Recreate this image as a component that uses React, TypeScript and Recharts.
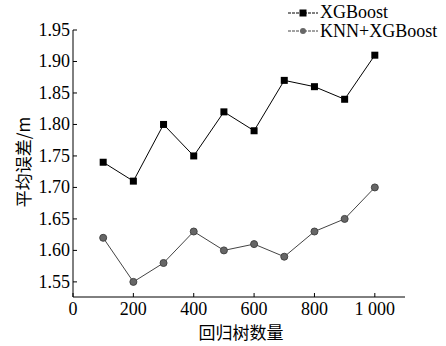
import React from 'react';
import { LineChart, Line, XAxis, YAxis, Legend } from 'recharts';

const treeCounts = [100, 200, 300, 400, 500, 600, 700, 800, 900, 1000];
const xgboostErr = [1.74, 1.71, 1.80, 1.75, 1.82, 1.79, 1.87, 1.86, 1.84, 1.91];
const knnXgboostErr = [1.62, 1.55, 1.58, 1.63, 1.60, 1.61, 1.59, 1.63, 1.65, 1.70];
const xTicks = [0, 200, 400, 600, 800, 1000];
const yTicks = [1.55, 1.6, 1.65, 1.7, 1.75, 1.8, 1.85, 1.9, 1.95];
const seriesNames = ['XGBoost', 'KNN+XGBoost'];
const xLabel = '回归树数量';
const yLabel = '平均误差/m';

const data = treeCounts.map((n, i) => ({ n, a: xgboostErr[i], b: knnXgboostErr[i] }));

const SERIF = '"Liberation Serif", "DejaVu Serif", serif';
const CJK = '"Noto Sans CJK SC", sans-serif';
const serifStyle = { fontFamily: SERIF };

const Square = (props: any) => {
  const { cx, cy } = props;
  if (cx == null || cy == null) return null;
  return <rect x={cx - 3.5} y={cy - 3.5} width={7} height={7} fill="#000" />;
};
const Dot = (props: any) => {
  const { cx, cy } = props;
  if (cx == null || cy == null) return null;
  return <circle cx={cx} cy={cy} r={3.5} fill="#666" stroke="#444" strokeWidth={1} />;
};

const renderXTick = (props: any) => {
  const { x, y, payload } = props;
  const v = payload.value as number;
  return (
    <text key={`xt-${v}`} x={x} y={y + 22} textAnchor="middle" style={serifStyle} fontSize={18} fill="#000">
      {v === 1000 ? '1 000' : String(v)}
    </text>
  );
};
const renderYTick = (props: any) => {
  const { y, payload } = props;
  const v = payload.value as number;
  return (
    <text key={`yt-${v}`} x={70} y={y + 6} textAnchor="end" style={serifStyle} fontSize={18} fill="#000">
      {v.toFixed(2)}
    </text>
  );
};

const LegendContent = () => (
  <svg width={160} height={40} style={{ display: 'block' }}>
    <g>
      <line x1={0} y1={13} x2={30} y2={13} stroke="#000" strokeWidth={1} strokeDasharray="3 1" />
      <rect x={11.5} y={9.5} width={7} height={7} fill="#000" />
      <text x={32} y={18} style={serifStyle} fontSize={18} fill="#000">{seriesNames[0]}</text>
    </g>
    <g>
      <line x1={0} y1={31} x2={30} y2={31} stroke="#444" strokeWidth={1} strokeDasharray="3 1" />
      <circle cx={15} cy={31} r={3} fill="#666" />
      <text x={32} y={37} style={serifStyle} fontSize={18} fill="#000">{seriesNames[1]}</text>
    </g>
  </svg>
);

export default function App() {
  return (
    <div style={{ position: 'absolute', left: 0, top: 0, background: '#fff', fontFamily: SERIF }}>
      <LineChart
        width={446}
        height={346}
        data={data}
        margin={{ top: 30, right: 41, bottom: 0, left: 0 }}
        style={{ fontFamily: SERIF }}
      >
        <XAxis
          dataKey="n"
          type="number"
          domain={[0, 1100]}
          ticks={xTicks}
          height={49}
          tickSize={-4}
          tickMargin={0}
          axisLine={{ stroke: '#000' }}
          tickLine={{ stroke: '#000' }}
          tick={renderXTick}
          label={() => (
            <text x={241} y={339} textAnchor="middle" fontFamily={CJK} fontSize={17} fill="#000">{xLabel}</text>
          )}
        />
        <YAxis
          type="number"
          domain={[1.526, 1.95]}
          ticks={yTicks}
          width={73}
          tickSize={-4}
          tickMargin={0}
          allowDataOverflow
          axisLine={{ stroke: '#000' }}
          tickLine={{ stroke: '#000' }}
          tick={renderYTick}
          label={() => (
            <text
              x={0}
              y={0}
              transform="translate(30,162) rotate(-90)"
              textAnchor="middle"
              fontFamily={CJK}
              fontSize={17}
              fill="#000"
            >
              {yLabel}
            </text>
          )}
        />
        <Legend
          content={<LegendContent />}
          layout="vertical"
          verticalAlign="middle"
          align="center"
          wrapperStyle={{ position: 'absolute', left: 288, top: 0, width: 160, height: 40 }}
        />
        <Line
          dataKey="a"
          name={seriesNames[0]}
          stroke="#000"
          strokeWidth={1}
          dot={<Square />}
          isAnimationActive={false}
        />
        <Line
          dataKey="b"
          name={seriesNames[1]}
          stroke="#444"
          strokeWidth={1}
          dot={<Dot />}
          isAnimationActive={false}
        />
      </LineChart>
    </div>
  );
}
